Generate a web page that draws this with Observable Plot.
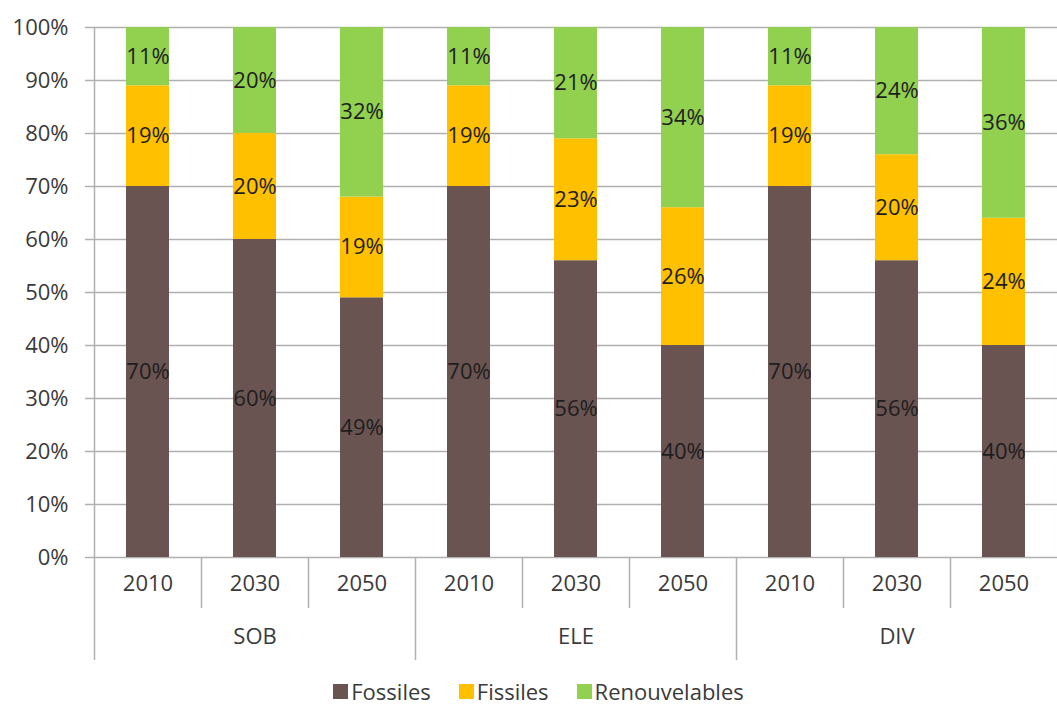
<!DOCTYPE html>
<html>
<head>
<meta charset="utf-8">
<script src="https://cdn.jsdelivr.net/npm/d3@7"></script>
<script src="https://cdn.jsdelivr.net/npm/@observablehq/plot@0.6"></script>
<style>
  body { margin: 0; background: #fff; font-family: "Open Sans", sans-serif; }
  #legend { width: 1057px; height: 37px; box-sizing: border-box; padding-top: 12px; padding-left: 20px;
    display: flex; justify-content: center; align-items: flex-start; gap: 28px; font-size: 22px; line-height: 18px; color: #3a3a3a; }
  .item { display: flex; align-items: center; gap: 3px; height: 18px; }
  .sw { width: 15px; height: 15px; display: inline-block; }
</style>
</head>
<body>
<div id="chart"></div>
<div id="legend"></div>
<script>
const scenarios = ["SOB", "ELE", "DIV"];
const years = ["2010", "2030", "2050"];
const types = ["Fossiles", "Fissiles", "Renouvelables"];
const fossiles = [70, 60, 49, 70, 56, 40, 70, 56, 40];
const fissiles = [19, 20, 19, 19, 23, 26, 19, 20, 24];
const renouvelables = [11, 20, 32, 11, 21, 34, 11, 24, 36];
const colors = ["#6a5452", "#ffc000", "#92d050"];
const yTicks = [0, 10, 20, 30, 40, 50, 60, 70, 80, 90, 100];

const series = [fossiles, fissiles, renouvelables];
const bars = [];
scenarios.forEach((s, si) => years.forEach((y, yi) => bars.push({i: si * 3 + yi, scenario: s, year: y})));
const data = [];
bars.forEach(b => types.forEach((t, ti) => data.push({...b, type: t, value: series[ti][b.i]})));

const grid = "#b0b0b0";
const fs = 22;
const chart = Plot.plot({
  width: 1057, height: 670,
  marginLeft: 94, marginRight: 0, marginTop: 27, marginBottom: 113,
  x: {domain: [0, 9], axis: null},
  y: {domain: [0, 100], axis: null},
  color: {domain: types, range: colors},
  style: {fontFamily: "Open Sans", fontSize: fs + "px", background: "#fff", overflow: "visible"},
  marks: [
    Plot.gridY({ticks: yTicks, stroke: grid, strokeOpacity: 1, strokeWidth: 1.5}),
    Plot.axisY({ticks: yTicks, label: null, tickFormat: d => d + "%", tickSize: 9, tickPadding: 17,
      stroke: grid, strokeWidth: 1.5, fill: "#3a3a3a", fontSize: fs}),
    Plot.ruleX([0], {stroke: grid, strokeWidth: 1.5}),
    Plot.axisX({ticks: [1, 2, 4, 5, 7, 8], label: null, tickSize: 51, tickFormat: () => "", stroke: grid, strokeWidth: 1.5}),
    Plot.axisX({ticks: [0, 3, 6], label: null, tickSize: 103, tickFormat: () => "", stroke: grid, strokeWidth: 1.5}),
    Plot.rectY(data, Plot.stackY({x1: "i", x2: d => d.i + 1, y: "value", fill: "type", insetLeft: 32, insetRight: 32})),
    Plot.text(data, Plot.stackY({x: d => d.i + 0.5, y: "value", text: d => d.value + "%", fill: "#1e1e1e", fontSize: fs})),
    Plot.text(bars, {x: d => d.i + 0.5, frameAnchor: "bottom", dy: 33, text: "year", fill: "#3a3a3a", fontSize: fs}),
    Plot.text(scenarios, {x: (d, i) => 3 * i + 1.5, frameAnchor: "bottom", dy: 86, text: d => d, fill: "#3a3a3a", fontSize: fs})
  ]
});
document.getElementById("chart").appendChild(chart);

const legend = document.getElementById("legend");
types.forEach((t, i) => {
  const it = document.createElement("span");
  it.className = "item";
  it.innerHTML = `<span class="sw" style="background:${colors[i]}"></span><span>${t}</span>`;
  legend.appendChild(it);
});
</script>
</body>
</html>
